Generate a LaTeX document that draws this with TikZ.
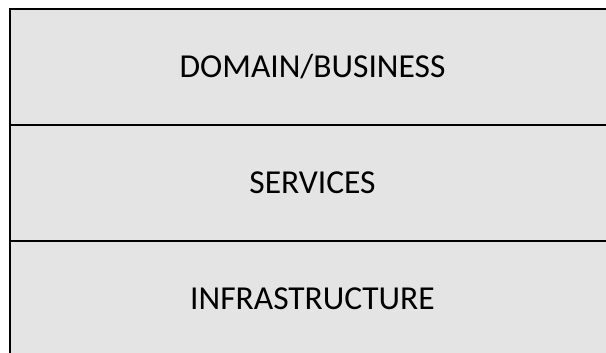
\documentclass[tikz,border=0pt]{standalone}
\usepackage{fontspec}
\setmainfont{Carlito}
\usetikzlibrary{positioning}
\definecolor{layerfill}{RGB}{228,228,228}
\begin{document}
\begin{tikzpicture}[x=1pt,y=1pt,
    layer/.style={draw, fill=layerfill, line width=2pt, minimum width=606pt,
      minimum height=116pt, inner sep=0pt, outer sep=0pt,
      text height=21pt, text depth=0pt, font=\fontsize{33.5}{40}\selectfont}]
                \clip (0,0) rectangle (606,353);
                \node[layer] (domain) at (312.5,286) {DOMAIN/BUSINESS};
                \node[layer, below=0pt of domain] (services) {SERVICES};
                \node[layer, below=0pt of services] (infra) {INFRASTRUCTURE};
            \end{tikzpicture}
\end{document}
